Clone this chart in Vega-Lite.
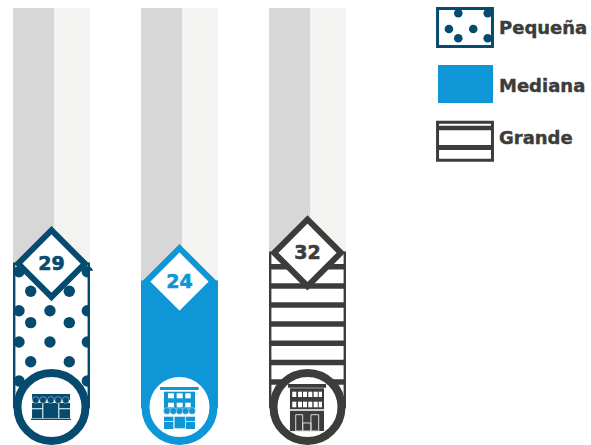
{
"$schema":"https://vega.github.io/schema/vega-lite/v6.json",
"width":591,"height":445,"padding":0,"autosize":{"type":"none"},
"background":"white",
"config":{"view":{"stroke":null},"axis":{"disable":true},"legend":{"disable":true}},
"datasets":{
"tamanos":[{"tamano":"Pequeña","col":1,"valor":29},{"tamano":"Mediana","col":2,"valor":24},{"tamano":"Grande","col":3,"valor":32}],
"leyenda":[
{"tamano":"Pequeña","x":4.016,"x2":4.445,"y":99.86,"y2":89.3,"ty":94.3},
{"tamano":"Mediana","x":4.031,"x2":4.4375,"y":83.75,"y2":74.03,"ty":78.06},
{"tamano":"Grande","x":4.016,"x2":4.445,"y":68.28,"y2":57.72,"ty":63.5}],
"puntos":[
{"x":0.746,"y":26.75},{"x":0.746,"y":15.9},{"x":0.746,"y":7.2},{"x":0.746,"y":-3.6},
{"x":1.28,"y":26.75},{"x":1.28,"y":15.9},{"x":1.28,"y":7.2},{"x":1.28,"y":-3.6},
{"x":0.8375,"y":21.3},{"x":0.8375,"y":12.6},{"x":0.8375,"y":1.75},
{"x":1.139,"y":21.3},{"x":1.139,"y":12.6},{"x":1.139,"y":1.75},
{"x":0.988,"y":15.9},{"x":0.988,"y":7.2}],
"puntosLeyenda":[
{"x":4.178,"y":98.53},{"x":4.408,"y":98.53},{"x":4.105,"y":94.17},{"x":4.295,"y":94.17},{"x":4.178,"y":91.58},{"x":4.408,"y":91.58}],
"franjas":[
{"x":2.699,"x2":3.301,"y":28.1,"g":5.5},{"x":2.699,"x2":3.301,"y":22.8,"g":5.5},{"x":2.699,"x2":3.301,"y":17.5,"g":5.5},{"x":2.699,"x2":3.301,"y":12.2,"g":5.5},{"x":2.699,"x2":3.301,"y":6.9,"g":5.5},{"x":2.699,"x2":3.301,"y":1.5,"g":5.5},{"x":2.699,"x2":3.301,"y":-3.9,"g":5.5},
{"x":4.016,"x2":4.445,"y":66.67,"g":4.5},{"x":4.016,"x2":4.445,"y":61.25,"g":5}],
"icono":[
{"c":"Pequeña","x":0.848,"x2":1.145,"y":-7.22,"y2":-8.89},
{"c":"Pequeña","x":0.848,"x2":0.928,"y":-9.72,"y2":-11.19},
{"c":"Pequeña","x":0.848,"x2":0.928,"y":-11.47,"y2":-13.97},
{"c":"Pequeña","x":0.936,"x2":1.053,"y":-9.72,"y2":-13.97},
{"c":"Pequeña","x":1.061,"x2":1.145,"y":-9.72,"y2":-11.19},
{"c":"Pequeña","x":1.061,"x2":1.145,"y":-11.47,"y2":-13.97},
{"c":"Pequeña","x":0.84,"x2":1.152,"y":-14.08,"y2":-14.44},
{"c":"Mediana","x":1.848,"x2":2.15,"y":-5.28,"y2":-6.11},
{"c":"Mediana","x":1.879,"x2":2.121,"y":-6.58,"y2":-11.94},
{"c":"Blanco","x":1.91,"x2":1.957,"y":-7.03,"y2":-8.42},
{"c":"Blanco","x":1.978,"x2":2.025,"y":-7.03,"y2":-8.42},
{"c":"Blanco","x":2.045,"x2":2.0875,"y":-7.03,"y2":-8.42},
{"c":"Blanco","x":1.91,"x2":1.957,"y":-9.64,"y2":-10.92},
{"c":"Blanco","x":1.978,"x2":2.025,"y":-9.64,"y2":-10.92},
{"c":"Blanco","x":2.045,"x2":2.0875,"y":-9.64,"y2":-10.92},
{"c":"Mediana","x":1.879,"x2":1.952,"y":-13.53,"y2":-14.72},
{"c":"Mediana","x":1.879,"x2":1.952,"y":-14.92,"y2":-16.94},
{"c":"Mediana","x":1.961,"x2":2.045,"y":-13.53,"y2":-16.75},
{"c":"Mediana","x":2.051,"x2":2.121,"y":-13.53,"y2":-14.72},
{"c":"Mediana","x":2.051,"x2":2.121,"y":-14.92,"y2":-16.94},
{"c":"Grande","x":2.848,"x2":3.145,"y":-4.44,"y2":-5.47},
{"c":"Grande","x":2.863,"x2":3.129,"y":-5.64,"y2":-11.47},
{"c":"Grande","x":2.863,"x2":3.129,"y":-11.86,"y2":-17.5},
{"c":"Blanco","x":2.881,"x2":2.9125,"y":-6.58,"y2":-8.06},
{"c":"Blanco","x":2.926,"x2":2.957,"y":-6.58,"y2":-8.06},
{"c":"Blanco","x":2.965,"x2":2.996,"y":-6.58,"y2":-8.06},
{"c":"Blanco","x":3.006,"x2":3.0375,"y":-6.58,"y2":-8.06},
{"c":"Blanco","x":3.048,"x2":3.08,"y":-6.58,"y2":-8.06},
{"c":"Blanco","x":3.0875,"x2":3.113,"y":-6.58,"y2":-8.06},
{"c":"Blanco","x":2.881,"x2":2.9125,"y":-9.36,"y2":-10.92},
{"c":"Blanco","x":2.926,"x2":2.957,"y":-9.36,"y2":-10.92},
{"c":"Blanco","x":2.965,"x2":2.996,"y":-9.36,"y2":-10.92},
{"c":"Blanco","x":3.006,"x2":3.0375,"y":-9.36,"y2":-10.92},
{"c":"Blanco","x":3.048,"x2":3.08,"y":-9.36,"y2":-10.92},
{"c":"Blanco","x":3.0875,"x2":3.113,"y":-9.36,"y2":-10.92}],
"festones":[
{"c":"Pequeña","x":0.877,"y":-8.89},{"c":"Pequeña","x":0.934,"y":-8.89},{"c":"Pequeña","x":0.994,"y":-8.89},{"c":"Pequeña","x":1.052,"y":-8.89},{"c":"Pequeña","x":1.111,"y":-8.89},
{"c":"Mediana","x":1.902,"y":-11.94},{"c":"Mediana","x":1.952,"y":-11.94},{"c":"Mediana","x":2,"y":-11.94},{"c":"Mediana","x":2.048,"y":-11.94},{"c":"Mediana","x":2.098,"y":-11.94}],
"puertas":[
{"x":2.908,"x2":2.9625,"y":-12.97,"y2":-17.5},
{"x":3.027,"x2":3.0875,"y":-12.97,"y2":-17.5},
{"x":2.9625,"x2":3.027,"y":-15.28,"y2":-17.5}]
},
"layer":[
{"data":{"name":"tamanos"},"mark":{"type":"bar","orient":"vertical","size":41,"xOffset":-18,"color":"#d7d7d7"},
 "encoding":{"x":{"field":"col","type":"quantitative","scale":{"domain":[0.5977,5.2148],"nice":false,"zero":false,"padding":0}},
 "y":{"field":"valor","type":"quantitative","scale":{"domain":[-21.39,102.22],"nice":false,"zero":false}},"y2":{"datum":100}}},
{"data":{"name":"tamanos"},"mark":{"type":"bar","orient":"vertical","size":36,"xOffset":20.5,"color":"#f3f3f2"},
 "encoding":{"x":{"field":"col","type":"quantitative"},"y":{"field":"valor","type":"quantitative"},"y2":{"datum":100}}},
{"data":{"name":"tamanos"},"mark":{"type":"bar","orient":"vertical","size":74.6,"strokeWidth":2.4},
 "encoding":{"x":{"field":"col","type":"quantitative"},"y":{"field":"valor","type":"quantitative"},"y2":{"datum":-10.83},
 "fill":{"condition":{"test":"datum.tamano==='Mediana'","value":"#0f96d6"},"value":"white"},
 "stroke":{"field":"tamano","type":"nominal","scale":{"domain":["Pequeña","Mediana","Grande","Blanco"],"range":["#054b70","#0f96d6","#3c3c3b","#ffffff"]}}}},
{"data":{"name":"leyenda"},"mark":{"type":"rect","strokeWidth":3},
 "encoding":{"x":{"field":"x","type":"quantitative"},"x2":{"field":"x2"},"y":{"field":"y","type":"quantitative"},"y2":{"field":"y2"},
 "fill":{"condition":{"test":"datum.tamano==='Mediana'","value":"#0f96d6"},"value":"white"},
 "stroke":{"field":"tamano","type":"nominal"}}},
{"data":{"name":"puntos"},"mark":{"type":"point","filled":true,"opacity":1,"size":130,"color":"#054b70"},
 "encoding":{"x":{"field":"x","type":"quantitative"},"y":{"field":"y","type":"quantitative"}}},
{"data":{"name":"puntosLeyenda"},"mark":{"type":"point","filled":true,"opacity":1,"size":74,"color":"#054b70"},
 "encoding":{"x":{"field":"x","type":"quantitative"},"y":{"field":"y","type":"quantitative"}}},
{"data":{"values":[{"x":1.3008,"x2":1.345,"y":27,"y2":-8}]},"mark":{"type":"rect","color":"white"},
 "encoding":{"x":{"field":"x","type":"quantitative"},"x2":{"field":"x2"},"y":{"field":"y","type":"quantitative"},"y2":{"field":"y2"}}},
{"data":{"name":"franjas"},"mark":{"type":"rule","color":"#3c3c3b"},
 "encoding":{"x":{"field":"x","type":"quantitative"},"x2":{"field":"x2"},"y":{"field":"y","type":"quantitative"},"strokeWidth":{"field":"g","type":"quantitative","scale":null}}},
{"data":{"name":"tamanos"},"mark":{"type":"point","shape":"circle","filled":true,"fill":"white","opacity":1,"fillOpacity":1,"size":4624,"strokeWidth":8},
 "encoding":{"x":{"field":"col","type":"quantitative"},"y":{"datum":-10.83},"stroke":{"field":"tamano","type":"nominal"}}},
{"data":{"name":"icono"},"mark":{"type":"rect"},
 "encoding":{"x":{"field":"x","type":"quantitative"},"x2":{"field":"x2"},"y":{"field":"y","type":"quantitative"},"y2":{"field":"y2"},"fill":{"field":"c","type":"nominal","scale":{"domain":["Pequeña","Mediana","Grande","Blanco"],"range":["#054b70","#0f96d6","#3c3c3b","#ffffff"]}}}},
{"data":{"name":"festones"},"mark":{"type":"point","shape":"circle","filled":true,"opacity":1,"size":46,"stroke":"white","strokeWidth":0.4},
 "encoding":{"x":{"field":"x","type":"quantitative"},"y":{"field":"y","type":"quantitative"},"fill":{"field":"c","type":"nominal"}}},
{"data":{"name":"puertas"},"mark":{"type":"rect","fillOpacity":0,"stroke":"#d8d8d8","strokeWidth":1},
 "encoding":{"x":{"field":"x","type":"quantitative"},"x2":{"field":"x2"},"y":{"field":"y","type":"quantitative"},"y2":{"field":"y2"}}},
{"data":{"name":"tamanos"},"mark":{"type":"point","shape":"diamond","filled":true,"fill":"white","opacity":1,"fillOpacity":1,"size":4450,"strokeWidth":6,"strokeJoin":"miter"},
 "encoding":{"x":{"field":"col","type":"quantitative"},"y":{"field":"valor","type":"quantitative"},"stroke":{"field":"tamano","type":"nominal"}}},
{"data":{"name":"tamanos"},"mark":{"type":"text","font":"DejaVu Sans","fontWeight":"bold","fontSize":19,"align":"center","baseline":"middle","strokeWidth":0.6},
 "encoding":{"x":{"field":"col","type":"quantitative"},"y":{"field":"valor","type":"quantitative"},"text":{"field":"valor","type":"quantitative"},
 "color":{"field":"tamano","type":"nominal","scale":{"domain":["Pequeña","Mediana","Grande","Blanco"],"range":["#054b70","#0f96d6","#3c3c3b","#ffffff"]}},
 "stroke":{"field":"tamano","type":"nominal"}}},
{"data":{"name":"leyenda"},"mark":{"type":"text","font":"DejaVu Sans","fontWeight":"bold","fontSize":18,"align":"left","baseline":"middle","color":"#3c3c3b","stroke":"#3c3c3b","strokeWidth":0.4},
 "encoding":{"x":{"datum":4.496,"type":"quantitative"},"y":{"field":"ty","type":"quantitative"},"text":{"field":"tamano","type":"nominal"}}}
]
}
